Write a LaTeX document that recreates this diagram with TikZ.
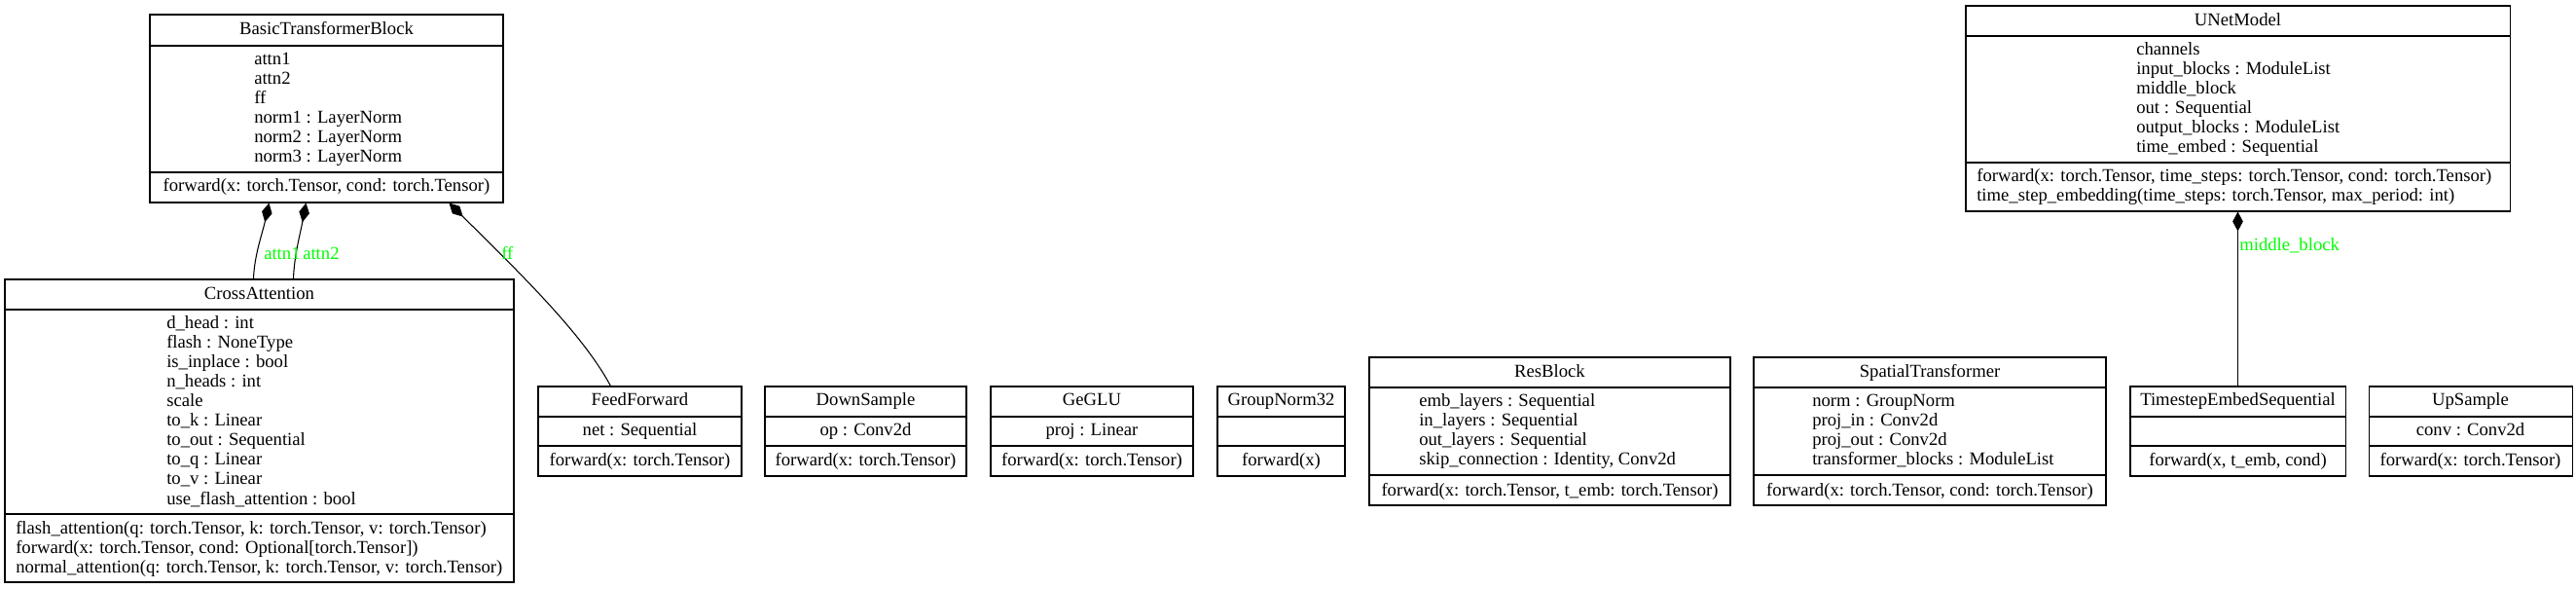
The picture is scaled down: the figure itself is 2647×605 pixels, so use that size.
\documentclass[tikz,border=0pt]{standalone}
\usepackage{fontspec}
\setmainfont{Liberation Serif}
\usetikzlibrary{arrows.meta,calc,fit}
\definecolor{lblgreen}{RGB}{0,255,0}
\newcommand\umlbox[7]{%
  \node[boxn, fit={(#2,#3) (#4,#7)}] (#1) {};
  \draw[sepline] (#2,#5) -- (#4,#5);
  \draw[sepline] (#2,#6) -- (#4,#6);
}
\begin{document}
\begin{tikzpicture}[x=0.75pt,y=-0.75pt,
  boxn/.style={draw, inner sep=0pt, line width=0.8pt},
  sepline/.style={line width=0.8pt},
  txt/.style={inner sep=0pt, font=\fontsize{14}{15}\selectfont},
  ctr/.style={txt, anchor=base},
  lft/.style={txt, anchor=base west},
  lbl/.style={txt, anchor=base west, text=lblgreen},
  comp/.style={line width=0.8pt, {Diamond[length=15pt,width=8pt]}-}]
\useasboundingbox (0,0) rectangle (2647,605);

% BasicTransformerBlock
\umlbox{btb}{154}{15}{517}{47}{177}{208}
\node[ctr] (btbt) at (335.5,36) {BasicTransformerBlock};
\foreach \t [count=\i] in {attn1, attn2, ff, norm1 : LayerNorm, norm2 : LayerNorm, norm3 : LayerNorm}
  \node[lft] (btba\i) at ({261},{47+20*\i}) {\t};
\node[ctr] (btbm) at (335.5,197) {forward(x: torch.Tensor, cond: torch.Tensor)};

% CrossAttention
\umlbox{ca}{5}{287}{528}{318}{528}{598}
\node[ctr] (cat) at (266.5,308) {CrossAttention};
\foreach \t [count=\i] in {d\_head : int, flash : NoneType, is\_inplace : bool, n\_heads : int, scale, to\_k : Linear, to\_out : Sequential, to\_q : Linear, to\_v : Linear, use\_flash\_attention : bool}
  \node[lft] (caa\i) at ({171},{318+20*\i}) {\t};
\foreach \t [count=\i] in {{flash\_attention(q: torch.Tensor, k: torch.Tensor, v: torch.Tensor)}, {forward(x: torch.Tensor, cond: Optional[torch.Tensor])}, {normal\_attention(q: torch.Tensor, k: torch.Tensor, v: torch.Tensor)}}
  \node[lft] (cam\i) at ({16},{528+20*\i}) {\t};

% FeedForward
\umlbox{ff}{553}{397}{762}{428}{458}{489}
\node[ctr] (fft) at (657.5,417) {FeedForward};
\node[ctr] (ffa) at (657.5,448) {net : Sequential};
\node[ctr] (ffm) at (657.5,479) {forward(x: torch.Tensor)};

% DownSample
\umlbox{ds}{786}{397}{993}{428}{458}{489}
\node[ctr] (dst) at (889.5,417) {DownSample};
\node[ctr] (dsa) at (889.5,448) {op : Conv2d};
\node[ctr] (dsm) at (889.5,479) {forward(x: torch.Tensor)};

% GeGLU
\umlbox{gg}{1018}{397}{1226}{428}{458}{489}
\node[ctr] (ggt) at (1122,417) {GeGLU};
\node[ctr] (gga) at (1122,448) {proj : Linear};
\node[ctr] (ggm) at (1122,479) {forward(x: torch.Tensor)};

% GroupNorm32
\umlbox{gn}{1251}{397}{1382}{428}{458}{489}
\node[ctr] (gnt) at (1316.5,417) {GroupNorm32};
\node[ctr] (gnm) at (1316.5,479) {forward(x)};

% ResBlock
\umlbox{rb}{1407}{367}{1778}{398}{488}{519}
\node[ctr] (rbt) at (1592.5,388) {ResBlock};
\foreach \t [count=\i] in {emb\_layers : Sequential, in\_layers : Sequential, out\_layers : Sequential, {skip\_connection : Identity, Conv2d}}
  \node[lft] (rba\i) at ({1458},{398+20*\i}) {\t};
\node[ctr] (rbm) at (1592.5,509) {forward(x: torch.Tensor, t\_emb: torch.Tensor)};

% SpatialTransformer
\umlbox{st}{1802}{367}{2164}{398}{488}{519}
\node[ctr] (stt) at (1983,388) {SpatialTransformer};
\foreach \t [count=\i] in {norm : GroupNorm, proj\_in : Conv2d, proj\_out : Conv2d, transformer\_blocks : ModuleList}
  \node[lft] (sta\i) at ({1862},{398+20*\i}) {\t};
\node[ctr] (stm) at (1983,509) {forward(x: torch.Tensor, cond: torch.Tensor)};

% TimestepEmbedSequential
\umlbox{tes}{2189}{397}{2410}{428}{458}{489}
\node[ctr] (test) at (2299.5,417) {TimestepEmbedSequential};
\node[ctr] (tesm) at (2299.5,479) {forward(x, t\_emb, cond)};

% UpSample
\umlbox{us}{2434}{397}{2643}{428}{458}{489}
\node[ctr] (ust) at (2538.5,417) {UpSample};
\node[ctr] (usa) at (2538.5,448) {conv : Conv2d};
\node[ctr] (usm) at (2538.5,479) {forward(x: torch.Tensor)};

% UNetModel
\umlbox{un}{2020}{6}{2579}{37}{167}{217}
\node[ctr] (unt) at (2299.5,27) {UNetModel};
\foreach \t [count=\i] in {channels, input\_blocks : ModuleList, middle\_block, out : Sequential, output\_blocks : ModuleList, time\_embed : Sequential}
  \node[lft] (una\i) at ({2195},{37+20*\i}) {\t};
\foreach \t [count=\i] in {{forward(x: torch.Tensor, time\_steps: torch.Tensor, cond: torch.Tensor)}, {time\_step\_embedding(time\_steps: torch.Tensor, max\_period: int)}}
  \node[lft] (unm\i) at ({2031},{167+20*\i}) {\t};

% connectors
\draw[comp] ($(btb.south west)+(123,0)$) .. controls +(-7,32) and +(1,-25) .. ($(ca.north west)+(256,0)$);
\draw[comp] ($(btb.south west)+(161,0)$) .. controls +(-6,32) and +(1,-25) .. ($(ca.north west)+(297,0)$);
\draw[comp] ($(btb.south west)+(308,0)$) .. controls +(78,77) and +(-28,-52) .. ($(ff.north west)+(75,0)$);
\draw[comp] ($(un.south west)+(280,0)$) -- ($(tes.north west)+(111,0)$);

\node[lbl] (l1) at (271,267) {attn1};
\node[lbl] (l2) at (311,267) {attn2};
\node[lbl] (l3) at (515,267) {ff};
\node[lbl] (l4) at (2301,258) {middle\_block};
\end{tikzpicture}
\end{document}
